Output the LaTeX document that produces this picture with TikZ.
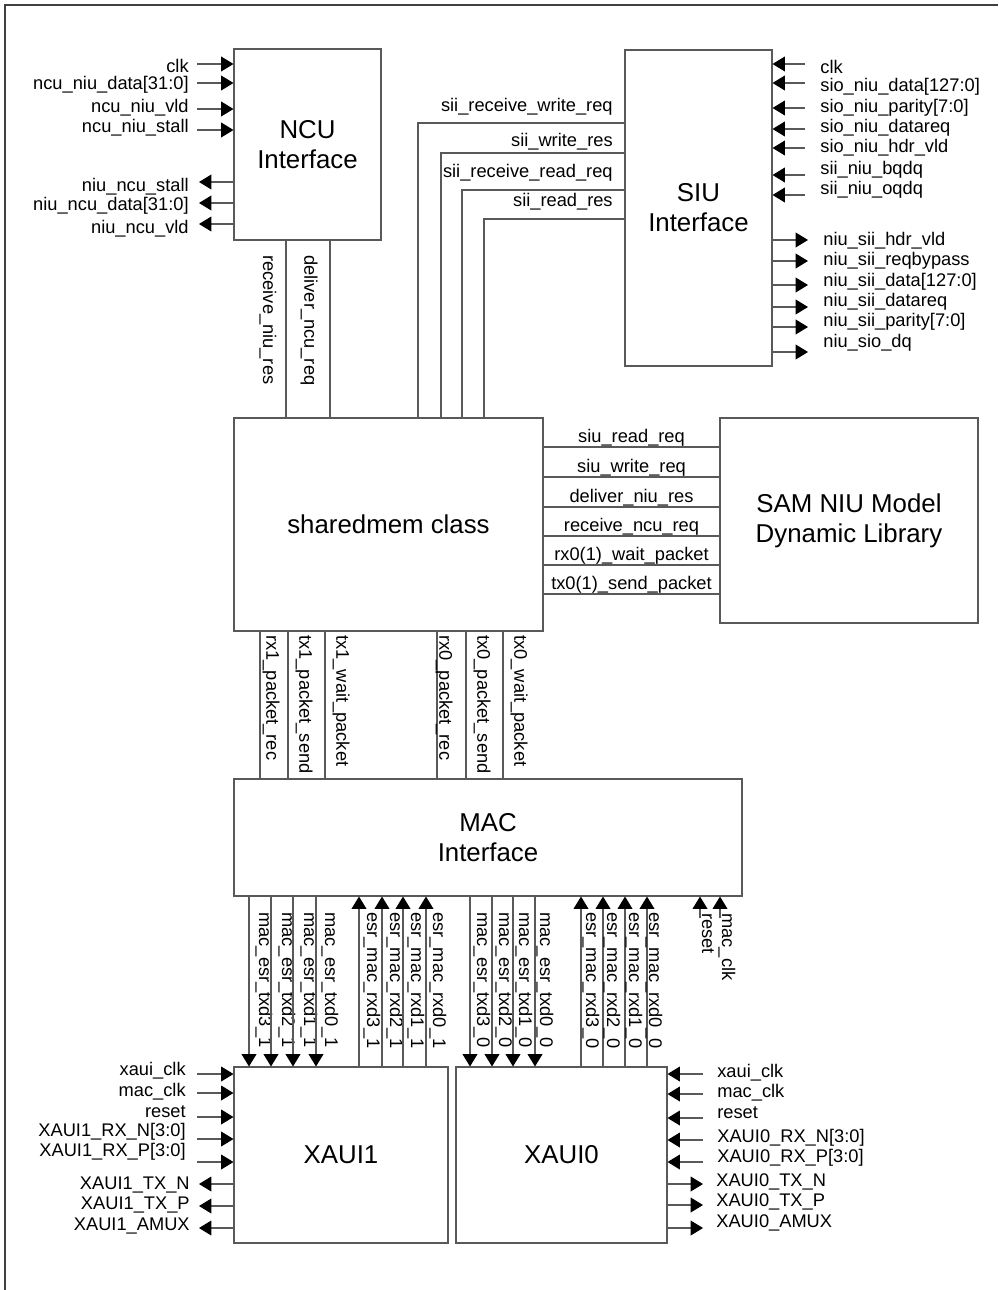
\documentclass[tikz,border=0pt]{standalone}
\usepackage{fontspec}
\setmainfont{Liberation Sans}
\usepackage{tikz}
\usetikzlibrary{arrows.meta,fit}
\newcommand{\lblfont}{\fontsize{10.4}{12}\selectfont}
\newcommand{\bigfont}{\fontsize{14.7}{17}\selectfont}

\begin{document}
\begin{tikzpicture}[x=0.02cm,y=-0.02cm,
    blk/.style={draw=black!65,line width=0.6pt,inner sep=0pt},
    title/.style={inner sep=0pt,align=center,font=\bigfont},
    wire/.style={draw=black!65,line width=0.6pt},
    sig/.style={wire,-{Triangle[length=7pt,width=8.4pt,color=black]}},
    lbl/.style={inner sep=0pt,font=\lblfont},
    vlbl/.style={lbl,rotate=-90,anchor=west}]
  \useasboundingbox (0,0) rectangle (998,1290);
  % frame
  \draw[black!75,line width=1.1pt] (5,1290) -- (5,5) -- (998,5);

  % blocks
  \node[blk,fit={(234,49) (381,240)}] (ncu) {};
  \node[blk,fit={(625,50) (772,366)}] (siu) {};
  \node[blk,fit={(234,418) (543,631)}] (sm) {};
  \node[blk,fit={(720,418) (978,623)}] (sam) {};
  \node[blk,fit={(234,779) (742,896)}] (mac) {};
  \node[blk,fit={(234,1067) (448,1243)}] (xaui1) {};
  \node[blk,fit={(456,1067) (667,1243)}] (xaui0) {};
  \node[title] (ncut) at (ncu.center) {NCU\\Interface};
  \node[title] (siut) at (siu.center) {SIU\\Interface};
  \node[title] (smt) at (sm.center) {sharedmem class};
  \node[title] (samt) at (sam.center) {SAM NIU Model\\Dynamic Library};
  \node[title] (mact) at (mac.center) {MAC\\Interface};
  \node[title] (xaui1t) at (xaui1.center) {XAUI1};
  \node[title] (xaui0t) at (xaui0.center) {XAUI0};

  % NCU side signals
  \foreach \ya/\yl/\t [count=\i] in {64/66/clk, 83/85/ncu\_niu\_data[31:0],
      109/108/ncu\_niu\_vld, 130/128/ncu\_niu\_stall}{
    \coordinate (ncui\i) at (197,\ya);
    \draw[sig] (ncui\i) -- (ncui\i -| ncu.west);
    \node[lbl,anchor=east] (ncuil\i) at (189,\yl) {\t};
  }
  \foreach \ya/\yl/\t [count=\i] in {182/187/niu\_ncu\_stall,
      203/206/niu\_ncu\_data[31:0], 224/229/niu\_ncu\_vld}{
    \coordinate (ncuo\i) at (199,\ya);
    \draw[sig] (ncuo\i -| ncu.west) -- (ncuo\i);
    \node[lbl,anchor=east] (ncuol\i) at (189,\yl) {\t};
  }

  % SIU side signals
  \foreach \ya/\yl/\t [count=\i] in {64/67/clk, 83/87/sio\_niu\_data[127:0],
      108/108/sio\_niu\_parity[7:0], 129/128/sio\_niu\_datareq,
      148/148/sio\_niu\_hdr\_vld, 175/170/sii\_niu\_bqdq, 195/190/sii\_niu\_oqdq}{
    \coordinate (siui\i) at (805,\ya);
    \draw[sig] (siui\i) -- (siui\i -| siu.east);
    \node[lbl,anchor=west] (siuil\i) at (820,\yl) {\t};
  }
  \foreach \ya/\yl/\t [count=\i] in {240/241/niu\_sii\_hdr\_vld,
      261/261/niu\_sii\_reqbypass, 285/282/niu\_sii\_data[127:0],
      307/302/niu\_sii\_datareq, 327/322/niu\_sii\_parity[7:0], 352/343/niu\_sio\_dq}{
    \coordinate (siuo\i) at (808,\ya);
    \draw[sig] (siuo\i -| siu.east) -- (siuo\i);
    \node[lbl,anchor=west] (siuol\i) at (823,\yl) {\t};
  }

  % SIU to sharedmem
  \foreach \y/\x/\ly/\t [count=\i] in {123/418/107/sii\_receive\_write\_req,
      153/441/142/sii\_write\_res, 190/462/173/sii\_receive\_read\_req,
      219/484/202/sii\_read\_res}{
    \draw[wire] (siu.west |- 0,\y) -| (sm.north -| \x,0);
    \node[lbl,anchor=east] (siil\i) at (613,\ly) {\t};
  }

  % NCU to sharedmem
  \foreach \x in {286,330}
    \draw[wire] (ncu.south -| \x,0) -- (sm.north -| \x,0);
  \node[vlbl] (rnr) at (268,255) {receive\_niu\_res};
  \node[vlbl] (dnr) at (309,255) {deliver\_ncu\_req};

  % sharedmem to SAM model
  \foreach \y/\t [count=\i] in {447/siu\_read\_req, 477/siu\_write\_req,
      507/deliver\_niu\_res, 536/receive\_ncu\_req,
      565/rx0(1)\_wait\_packet, 594/tx0(1)\_send\_packet}
    \draw[wire] (sm.east |- 0,\y) -- node[lbl,above=0pt] (saml\i) {\t} (sam.west |- 0,\y);

  % sharedmem to MAC
  \foreach \x/\lx/\t [count=\i] in {260/271/rx1\_packet\_rec, 288/304/tx1\_packet\_send,
      325/341/tx1\_wait\_packet, 437/444/rx0\_packet\_rec,
      466/482/tx0\_packet\_send, 503/519/tx0\_wait\_packet}{
    \draw[wire] (sm.south -| \x,0) -- (mac.north -| \x,0);
    \node[vlbl] (pk\i) at (\lx,635) {\t};
  }

  % MAC to XAUI1
  \foreach \x/\lx/\t [count=\i] in {249/264/mac\_esr\_txd3\_1, 271/287/mac\_esr\_txd2\_1,
      293/309/mac\_esr\_txd1\_1, 316/330/mac\_esr\_txd0\_1}{
    \draw[sig] (mac.south -| \x,0) -- (xaui1.north -| \x,0);
    \node[vlbl] (tx1l\i) at (\lx,912) {\t};
  }
  \foreach \x/\lx/\t [count=\i] in {359/372/esr\_mac\_rxd3\_1, 382/395/esr\_mac\_rxd2\_1,
      403/416/esr\_mac\_rxd1\_1, 426/438/esr\_mac\_rxd0\_1}{
    \draw[sig] (xaui1.north -| \x,0) -- (mac.south -| \x,0);
    \node[vlbl] (rx1l\i) at (\lx,912) {\t};
  }

  % MAC to XAUI0
  \foreach \x/\lx/\t [count=\i] in {470/482/mac\_esr\_txd3\_0, 492/504/mac\_esr\_txd2\_0,
      513/524/mac\_esr\_txd1\_0, 535/545/mac\_esr\_txd0\_0}{
    \draw[sig] (mac.south -| \x,0) -- (xaui0.north -| \x,0);
    \node[vlbl] (tx0l\i) at (\lx,912) {\t};
  }
  \foreach \x/\lx/\t [count=\i] in {581/591/esr\_mac\_rxd3\_0, 603/612/esr\_mac\_rxd2\_0,
      625/634/esr\_mac\_rxd1\_0, 647/654/esr\_mac\_rxd0\_0}{
    \draw[sig] (xaui0.north -| \x,0) -- (mac.south -| \x,0);
    \node[vlbl] (rx0l\i) at (\lx,912) {\t};
  }

  % MAC clock and reset
  \coordinate (rst) at (700,918);
  \coordinate (mclk) at (720,918);
  \draw[sig] (rst) -- (rst |- mac.south);
  \draw[sig] (mclk) -- (mclk |- mac.south);
  \node[vlbl] (rstl) at (708,913) {reset};
  \node[vlbl] (mclkl) at (727,913) {mac\_clk};

  % XAUI1 side signals
  \foreach \ya/\yl/\t [count=\i] in {1074/1071/xaui\_clk, 1093/1092/mac\_clk,
      1117/1112/reset, 1139/1132/XAUI1\_RX\_N[3:0], 1162/1152/XAUI1\_RX\_P[3:0]}{
    \coordinate (x1i\i) at (197,\ya);
    \draw[sig] (x1i\i) -- (x1i\i -| xaui1.west);
    \node[lbl,anchor=east] (x1il\i) at (186,\yl) {\t};
  }
  \foreach \ya/\yl/\t [count=\i] in {1184/1185/XAUI1\_TX\_N, 1206/1205/XAUI1\_TX\_P,
      1228/1226/XAUI1\_AMUX}{
    \coordinate (x1o\i) at (199,\ya);
    \draw[sig] (x1o\i -| xaui1.west) -- (x1o\i);
    \node[lbl,anchor=east] (x1ol\i) at (190,\yl) {\t};
  }

  % XAUI0 side signals
  \foreach \ya/\yl/\t [count=\i] in {1074/1073/xaui\_clk, 1094/1093/mac\_clk,
      1118/1113/reset, 1140/1138/XAUI0\_RX\_N[3:0], 1162/1158/XAUI0\_RX\_P[3:0]}{
    \coordinate (x0i\i) at (703,\ya);
    \draw[sig] (x0i\i) -- (x0i\i -| xaui0.east);
    \node[lbl,anchor=west] (x0il\i) at (717,\yl) {\t};
  }
  \foreach \ya/\yl/\t [count=\i] in {1184/1182/XAUI0\_TX\_N, 1205/1202/XAUI0\_TX\_P,
      1228/1223/XAUI0\_AMUX}{
    \coordinate (x0o\i) at (703,\ya);
    \draw[sig] (x0o\i -| xaui0.east) -- (x0o\i);
    \node[lbl,anchor=west] (x0ol\i) at (716,\yl) {\t};
  }
\end{tikzpicture}
\end{document}
